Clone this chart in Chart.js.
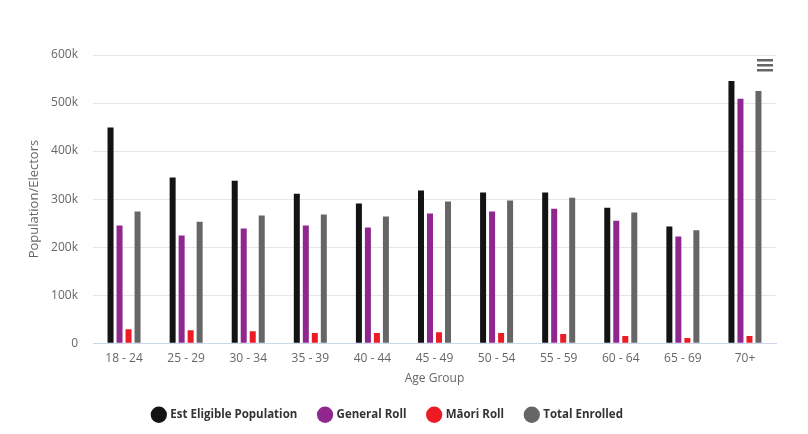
<!DOCTYPE html>
<html>
<head>
<meta charset="utf-8">
<script src="https://cdn.jsdelivr.net/npm/chart.js@4.4.0/dist/chart.umd.min.js"></script>
<style>
	html, body { margin: 0; padding: 0; background: #fff; }
	#wrap { width: 808px; height: 434px; position: relative; }
</style>
</head>
<body>
<div id="wrap"><canvas id="chart" width="808" height="434"></canvas></div>
<script>
const ageGroups = ['18 - 24', '25 - 29', '30 - 34', '35 - 39', '40 - 44', '45 - 49', '50 - 54', '55 - 59', '60 - 64', '65 - 69', '70+'];
const eligible = [449000, 345000, 338000, 311000, 291000, 318000, 314000, 314000, 282000, 243000, 546000];
const generalRoll = [245000, 224000, 239000, 245000, 241000, 270000, 274000, 280000, 255000, 222000, 509000];
const maoriRoll = [29000, 27000, 25000, 21000, 21000, 23000, 21000, 19000, 15000, 11000, 15000];
const totalEnrolled = [274000, 253000, 266000, 268000, 264000, 295000, 297000, 303000, 272000, 235000, 525000];
const yTicks = [0, 100000, 200000, 300000, 400000, 500000, 600000];

const fontFamily = '"Open Sans", "DejaVu Sans", sans-serif';

// hamburger menu icon, top right
const menuIcon = {
	id: 'menuIcon',
	afterDraw(chart) {
		let ctx = chart.ctx;
		ctx.save();
		ctx.fillStyle = '#666666';
		[59, 64, 69].forEach(function(y) {
			ctx.fillRect(757, y, 16, 2.5);
		});
		ctx.restore();
	}
};

// keep the legend short while leaving wide gaps between items
const legendHeight = {
	id: 'legendHeight',
	beforeUpdate(chart) {
		let lg = chart.legend;
		if (lg && !lg._fixed) {
			let fit = lg.fit;
			lg.fit = function() {
				fit.call(this);
				this.height = 47;
			};
			lg._fixed = true;
		}
	}
};

function series(label, data, color)
{
	return {
		label: label,
		data: data,
		backgroundColor: color,
		borderWidth: 0,
		categoryPercentage: 0.58,
		barPercentage: 0.667,
	};
}

new Chart(document.getElementById('chart').getContext('2d'), {
	type: 'bar',
	data: {
		labels: ageGroups,
		datasets: [
			series('Est Eligible Population', eligible, '#131313'),
			series('General Roll', generalRoll, '#8f278f'),
			series('Māori Roll', maoriRoll, '#ed1c24'),
			series('Total Enrolled', totalEnrolled, '#666666'),
		],
	},
	options: {
		responsive: false,
		animation: false,
		layout: { padding: { top: 55, right: 32, left: 0, bottom: 0 } },
		plugins: {
			tooltip: { enabled: false },
			legend: {
				position: 'bottom',
				labels: {
					usePointStyle: true,
					pointStyle: 'circle',
					boxWidth: 12,
					boxHeight: 12,
					padding: 22,
					color: '#333333',
					font: { family: fontFamily, size: 11.5, weight: 'bold' },
				},
			},
		},
		scales: {
			x: {
				grid: { display: false },
				border: { color: '#ccd6eb' },
				ticks: { color: '#666666', padding: 0, font: { family: fontFamily, size: 12 } },
				title: { display: true, text: 'Age Group', color: '#666666', padding: { top: 6, bottom: 1 }, font: { family: fontFamily, size: 12 } },
			},
			y: {
				min: 0,
				max: 600000,
				afterBuildTicks: function(scale) {
					scale.ticks = yTicks.map(v => ({ value: v }));
				},
				afterFit: function(scale) {
					scale.width = 93;
				},
				grid: { color: '#e6e6e6', drawTicks: false },
				border: { display: false },
				ticks: {
					color: '#666666',
					padding: 15,
					font: { family: fontFamily, size: 12 },
					callback: v => v === 0 ? '0' : (v / 1000) + 'k',
				},
				title: { display: true, text: 'Population/Electors', color: '#666666', padding: { top: 26, bottom: 0 }, font: { family: fontFamily, size: 13 } },
			},
		},
	},
	plugins: [menuIcon, legendHeight],
});
</script>
</body>
</html>
